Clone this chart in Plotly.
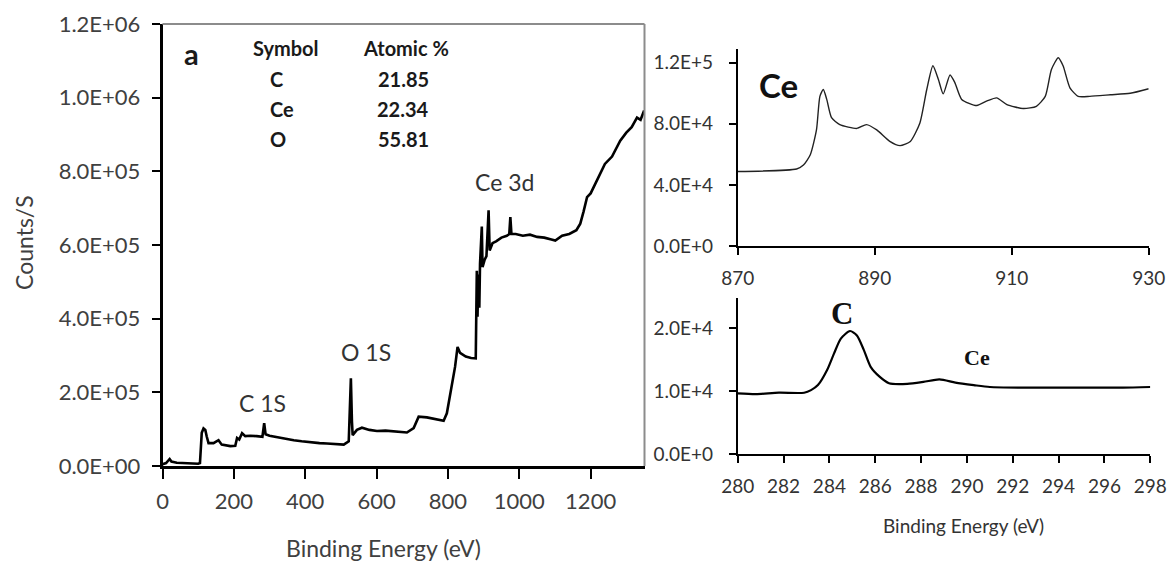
import plotly.graph_objects as go

W, H = 1175, 571

# ---- survey spectrum (left) ----
survey_be = [0, 10, 20, 25, 40, 60, 80, 100, 105, 110, 115, 120, 124, 129, 143, 157, 166, 190, 204, 209,
             215, 223, 232, 246, 264, 280, 285, 289, 300, 321, 345, 368, 390, 414, 440, 461, 485, 508,
             522, 528, 531, 533, 545, 559, 580, 601, 625, 648, 670, 685, 704, 718, 741, 765, 788, 797,
             811, 820, 827, 834, 850, 865, 878, 881, 883, 885, 888, 890, 895, 897, 903, 908, 914, 917,
             925, 935, 950, 965, 972, 975, 978, 990, 1010, 1030, 1050, 1070, 1090, 1101, 1120, 1140,
             1160, 1171, 1180, 1190, 1200, 1210, 1227, 1240, 1260, 1283, 1300, 1315, 1330, 1340, 1350]
survey_counts = [5e3, 8e3, 1.9e4, 1.2e4, 9e3, 8e3, 7e3, 6e3, 8e3, 9.0e4, 1.02e5, 9.8e4, 8.0e4, 6.2e4,
                 6.2e4, 7.0e4, 5.8e4, 5.4e4, 5.5e4, 7.6e4, 7.2e4, 8.9e4, 8.1e4, 8.2e4, 8.1e4, 7.9e4,
                 1.16e5, 8.6e4, 8.2e4, 7.8e4, 7.3e4, 7.0e4, 6.7e4, 6.4e4, 6.2e4, 6.1e4, 5.9e4, 5.8e4,
                 6.7e4, 2.38e5, 1.2e5, 8.4e4, 9.8e4, 1.04e5, 9.8e4, 9.5e4, 9.6e4, 9.4e4, 9.3e4, 9.1e4,
                 1.03e5, 1.34e5, 1.32e5, 1.28e5, 1.23e5, 1.43e5, 2.15e5, 2.69e5, 3.23e5, 3.07e5, 2.97e5,
                 2.93e5, 2.92e5, 5.3e5, 4.05e5, 5.2e5, 4.3e5, 5.5e5, 6.5e5, 5.4e5, 5.6e5, 5.7e5, 6.94e5,
                 5.85e5, 6.05e5, 6.1e5, 6.2e5, 6.25e5, 6.3e5, 6.76e5, 6.3e5, 6.3e5, 6.25e5, 6.28e5,
                 6.22e5, 6.2e5, 6.15e5, 6.12e5, 6.25e5, 6.3e5, 6.4e5, 6.58e5, 6.9e5, 7.3e5, 7.4e5,
                 7.6e5, 7.94e5, 8.2e5, 8.4e5, 8.83e5, 9.05e5, 9.2e5, 9.46e5, 9.4e5, 9.65e5]
survey_yticks = [0, 2e5, 4e5, 6e5, 8e5, 1.0e6, 1.2e6]
survey_yticktext = ["0.0E+00", "2.0E+05", "4.0E+05", "6.0E+05", "8.0E+05", "1.0E+06", "1.2E+06"]
survey_xticks = [0, 200, 400, 600, 800, 1000, 1200]

# ---- Ce 3d high-resolution (top right) ----
ce_be = [870, 878.6, 879.6, 880.6, 881.5, 882, 882.5, 883, 883.7, 884.9, 887.4, 888.8, 890.3, 892.2,
         893.7, 895.2, 896.6, 897.6, 898.5, 899.3, 900, 901, 901.7, 902.7, 904.9, 906.4, 907.8, 909.3,
         911.7, 913.6, 914.9, 915.8, 916.8, 917.5, 918.5, 919.7, 921.4, 924.4, 927.3, 930]
ce_counts = [4.88e4, 5.04e4, 5.3e4, 5.98e4, 7.6e4, 9.8e4, 1.025e5, 9.6e4, 8.4e4, 7.95e4, 7.7e4, 7.95e4,
             7.6e4, 6.85e4, 6.57e4, 6.85e4, 8.06e4, 1.025e5, 1.18e5, 1.09e5, 9.96e4, 1.12e5, 1.07e5,
             9.6e4, 9.2e4, 9.5e4, 9.7e4, 9.26e4, 9.0e4, 9.15e4, 9.8e4, 1.156e5, 1.233e5, 1.18e5,
             1.036e5, 9.8e4, 9.8e4, 9.9e4, 1.0e5, 1.03e5]
ce_yticks = [0, 4e4, 8e4, 1.2e5]
ce_yticktext = ["0.0E+0", "4.0E+4", "8.0E+4", "1.2E+5"]
ce_xticks = [870, 890, 910, 930]

# ---- C 1s high-resolution (bottom right) ----
c_be = [280, 280.8, 281.8, 282.9, 283.2, 283.5, 283.9, 284.2, 284.5, 284.9, 285.2, 285.5, 285.8, 286.2,
        286.6, 287.4, 288.1, 288.8, 289.5, 290.3, 291, 292.5, 293.9, 295.4, 296.8, 298]
c_counts = [9.68e3, 9.57e3, 9.79e3, 9.79e3, 1.02e4, 1.1e4, 1.34e4, 1.6e4, 1.84e4, 1.96e4, 1.89e4, 1.66e4,
            1.39e4, 1.23e4, 1.13e4, 1.12e4, 1.15e4, 1.19e4, 1.14e4, 1.1e4, 1.07e4, 1.06e4, 1.06e4,
            1.06e4, 1.06e4, 1.07e4]
c_yticks = [0, 1e4, 2e4]
c_yticktext = ["0.0E+0", "1.0E+4", "2.0E+4"]
c_xticks = list(range(280, 300, 2))

# composition table
table_symbols = ["C", "Ce", "O"]
table_atomic = ["21.85", "22.34", "55.81"]


def px(x):
    return x / W


def py(y):
    return 1 - y / H


FONT = "Lato"
TICK_MAIN = dict(family=FONT, size=22, color="#404040")
TICK_SMALL = dict(family=FONT, size=19, color="#333333")

fig = go.Figure()
fig.add_trace(go.Scatter(x=survey_be, y=survey_counts, mode="lines",
                         line=dict(color="black", width=2.6), xaxis="x", yaxis="y", showlegend=False))
fig.add_trace(go.Scatter(x=ce_be, y=ce_counts, mode="lines",
                         line=dict(color="#222222", width=1.4, shape="spline", smoothing=0.6),
                         xaxis="x2", yaxis="y2", showlegend=False))
fig.add_trace(go.Scatter(x=c_be, y=c_counts, mode="lines",
                         line=dict(color="black", width=2.2, shape="spline", smoothing=0.7),
                         xaxis="x3", yaxis="y3", showlegend=False))

main_xdom = [px(162.5), px(644.5)]
main_ydom = [py(466), py(24)]
tr_xdom = [px(737.7), px(1148.7)]
tr_ydom = [py(246), py(49)]
br_xdom = [px(737.7), px(1150.3)]
br_ydom = [py(454.3), py(298.3)]

common = dict(showgrid=False, zeroline=False, showline=True, linecolor="black", ticks="outside",
              tickcolor="black", automargin=False)

fig.update_layout(
    width=W, height=H, margin=dict(l=0, r=0, t=0, b=0, autoexpand=False),
    paper_bgcolor="white", plot_bgcolor="white",
    xaxis=dict(domain=main_xdom, range=[0, 1351], tickvals=survey_xticks, ticklen=10, tickwidth=2,
               linewidth=2.5, tickfont=TICK_MAIN, anchor="y", ticklabelstandoff=4, **common),
    yaxis=dict(domain=main_ydom, range=[0, 1.2e6], tickvals=survey_yticks, ticktext=survey_yticktext,
               ticklen=8, tickwidth=2, linewidth=2.5, tickfont=TICK_MAIN, anchor="x",
               ticklabelstandoff=7, **common),
    xaxis2=dict(domain=tr_xdom, range=[870, 930], tickvals=ce_xticks, ticklen=7, tickwidth=1.5,
                linewidth=1.5, tickfont=TICK_SMALL, anchor="y2", ticklabelstandoff=7, **common),
    yaxis2=dict(domain=tr_ydom, range=[0, 1.29e5], tickvals=ce_yticks, ticktext=ce_yticktext,
                ticklen=7, tickwidth=1.5, linewidth=1.5, tickfont=TICK_SMALL, anchor="x2",
                ticklabelstandoff=12, **common),
    xaxis3=dict(domain=br_xdom, range=[280, 298], tickvals=c_xticks, ticklen=7, tickwidth=1.5,
                linewidth=1.5, tickfont=TICK_SMALL, anchor="y3", ticklabelstandoff=7, **common),
    yaxis3=dict(domain=br_ydom, range=[0, 2.48e4], tickvals=c_yticks, ticktext=c_yticktext,
                ticklen=7, tickwidth=1.5, linewidth=1.5, tickfont=TICK_SMALL, anchor="x3",
                ticklabelstandoff=12, **common),
)

# gray top/right frame of main chart
fig.add_shape(type="line", xref="paper", yref="paper", x0=main_xdom[0], x1=main_xdom[1],
              y0=main_ydom[1], y1=main_ydom[1], line=dict(color="#8c8c8c", width=2))
fig.add_shape(type="line", xref="paper", yref="paper", x0=main_xdom[1], x1=main_xdom[1],
              y0=main_ydom[0], y1=main_ydom[1], line=dict(color="#8c8c8c", width=2))

ann = []


def text(x, y, s, size, color="#333333", bold=False, family=FONT, angle=0):
    ann.append(dict(x=px(x), y=py(y), xref="paper", yref="paper", text=(f"<b>{s}</b>" if bold else s),
                    showarrow=False, xanchor="center", yanchor="middle", textangle=angle,
                    font=dict(family=family, size=size, color=color)))


# axis titles
text(24, 243, "Counts/S", 23, "#404040", angle=-90)
text(383, 548, "Binding Energy (eV)", 23, "#404040")
text(963, 525, "Binding Energy (eV)", 19, "#333333")

# peak labels on survey
text(262, 403, "C 1S", 23, "#333333")
text(366, 352, "O 1S", 23, "#333333")
text(504, 182, "Ce 3d", 23, "#333333")

# table
text(191, 53, "a", 29, "#1a1a1a", bold=True)
text(286, 48, "Symbol", 20, "#1a1a1a", bold=True)
text(406, 48, "Atomic %", 20, "#1a1a1a", bold=True)
rows_y = [79, 109, 139]
sym_x = [276, 282, 278]
for s, v, yy, sx in zip(table_symbols, table_atomic, rows_y, sym_x):
    text(sx, yy, s, 20, "#1a1a1a", bold=True)
    text(403, yy, v, 20, "#1a1a1a", bold=True)

# right chart labels
text(778, 85, "Ce", 33, "#111111", bold=True)
text(842, 313, "C", 31, "#111111", bold=True, family="Liberation Serif")
text(977, 357, "Ce", 22, "#111111", bold=True, family="Liberation Serif")

fig.update_layout(annotations=ann)
fig.write_html("out.html")
